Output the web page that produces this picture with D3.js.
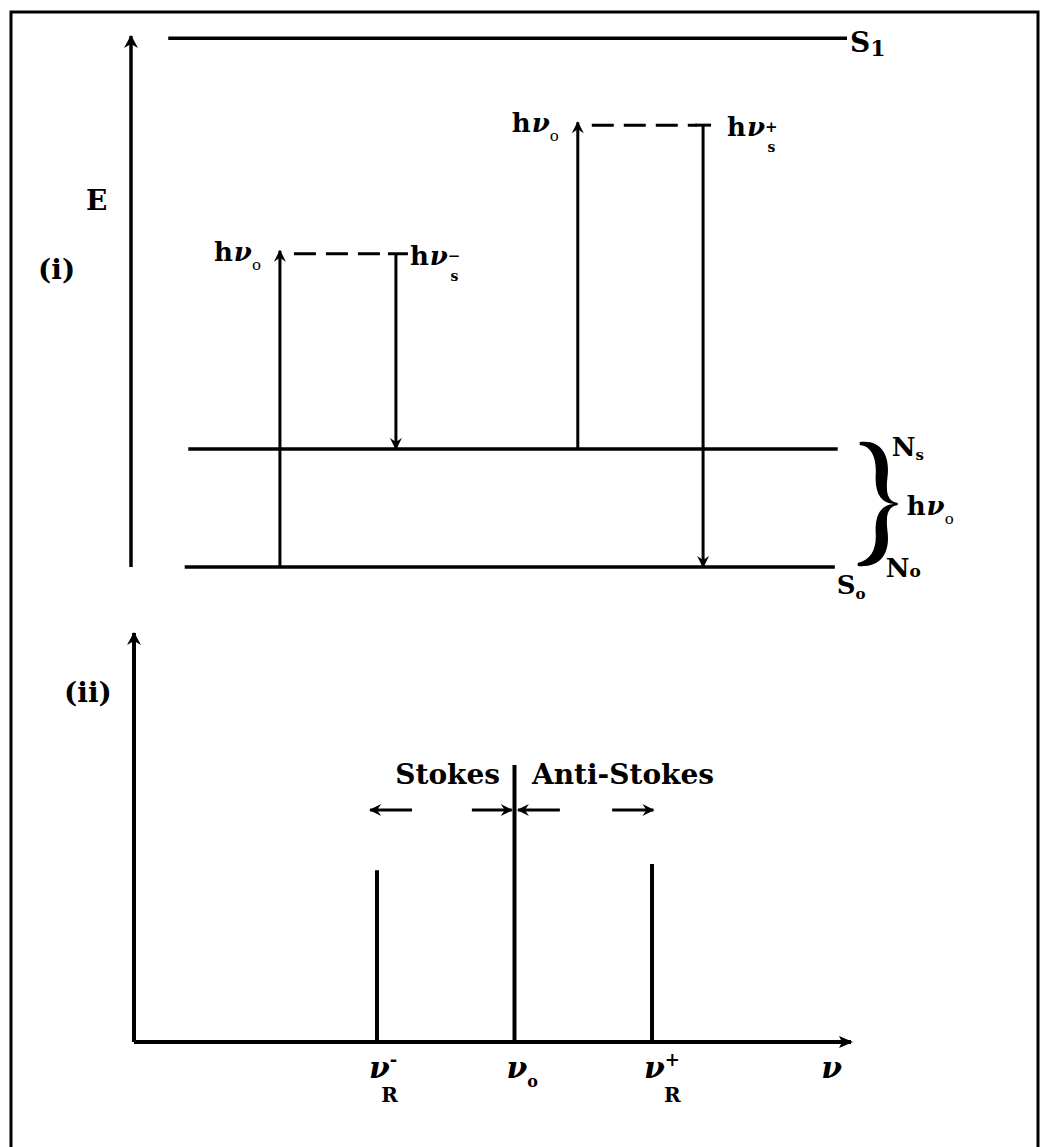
<!DOCTYPE html>
<html><head><meta charset="utf-8">
<script src="https://cdn.jsdelivr.net/npm/d3@7"></script>
<style>body{margin:0;background:#fff}svg{display:block}</style>
</head><body>
<script>
// ---------- Panel (i): energy-level data ----------
const levelNames = ["S0", "Ns", "S1"];
const levelEnergy = [0, 1, 4.48];
const levelStart = [7.5, 8.0, 5.2];     // horizontal extent (diagram units 0..100)
const levelEnd = [98.3, 98.7, 100];
const virtualEnergy = [2.68, 3.77];     // virtual states (Stokes, anti-Stokes)
const exciteX = [20.8, 62.4];           // upward excitation arrows
const emitX = [37.0, 79.9];             // downward emission arrows
const exciteFrom = [0, 1];              // starting level energy
const emitTo = [1, 0];                  // final level energy
const emitSup = ["\u2212", "+"];
// ---------- Panel (ii): spectrum data ----------
const peakLabels = ["R-", "0", "R+"];
const peakFreq = [-1, 0, 1];
const peakIntensity = [0.42, 0.677, 0.435];
const freqDomain = [-2.767, 2.447];
const bandArrows = [[-0.745, -1.05], [-0.31, -0.02], [0.33, 0.025], [0.71, 1.01]];
const bandArrowLevel = 0.567;

const W = 1047, H = 1147;
const svg = d3.select("body").append("svg").attr("width", W).attr("height", H);
svg.append("rect").attr("width", W).attr("height", H).attr("fill", "#fff");
const defs = svg.append("defs");
function marker(id, d) {
  defs.append("marker").attr("id", id).attr("viewBox", "-14 -8 16 16")
    .attr("refX", 0).attr("refY", 0).attr("markerWidth", 16).attr("markerHeight", 16)
    .attr("markerUnits", "userSpaceOnUse").attr("orient", "auto")
    .append("path").attr("d", d).attr("fill", "#000");
}
marker("ah", "M1,0 L-12,-7 L-8,0 L-12,7 Z");
marker("ahs", "M1,0 L-11,-6 L-7,0 L-11,6 Z");
marker("tri", "M2,0 L-12,-6 L-9,0 L-12,6 Z");

// frame
svg.append("path").attr("d", "M11,1147 L11,12 L1038,12 L1038,1147")
  .attr("fill", "none").attr("stroke", "#000").attr("stroke-width", 3);

const serif = "'DejaVu Serif', 'Liberation Serif', serif";

// ---------- Panel (i) ----------
const xI = d3.scaleLinear().domain([0, 100]).range([131, 847]);
const yE = d3.scaleLinear().domain([0, 4.5]).range([567, 36]);
const gI = svg.append("g");

gI.append("line").attr("x1", xI(0)).attr("x2", xI(0)).attr("y1", yE(0)).attr("y2", yE(4.5))
  .attr("stroke", "#000").attr("stroke-width", 3.5).attr("marker-end", "url(#ah)");

gI.selectAll("line.level").data(levelNames).join("line").attr("class", "level")
  .attr("x1", (d, i) => xI(levelStart[i])).attr("x2", (d, i) => xI(levelEnd[i]))
  .attr("y1", (d, i) => yE(levelEnergy[i])).attr("y2", (d, i) => yE(levelEnergy[i]))
  .attr("stroke", "#000").attr("stroke-width", 3.5);

gI.selectAll("line.exc").data(virtualEnergy).join("line").attr("class", "exc")
  .attr("x1", (d, i) => xI(exciteX[i])).attr("x2", (d, i) => xI(exciteX[i]))
  .attr("y1", (d, i) => yE(exciteFrom[i])).attr("y2", d => yE(d))
  .attr("stroke", "#000").attr("stroke-width", 3).attr("marker-end", "url(#ahs)");
gI.selectAll("line.virt").data(virtualEnergy).join("line").attr("class", "virt")
  .attr("x1", (d, i) => xI(exciteX[i]) + 14).attr("x2", (d, i) => xI(emitX[i]) - 6)
  .attr("y1", d => yE(d) + 3).attr("y2", d => yE(d) + 3)
  .attr("stroke", "#000").attr("stroke-width", 3).attr("stroke-dasharray", "22,10");
gI.selectAll("path.emi").data(virtualEnergy).join("path").attr("class", "emi")
  .attr("d", (d, i) => `M${xI(emitX[i]) - 8},${yE(d) + 3} L${xI(emitX[i]) + (i ? 8 : 12)},${yE(d) + 3}`)
  .attr("stroke", "#000").attr("stroke-width", 3).attr("fill", "none");
gI.selectAll("line.emi").data(virtualEnergy).join("line").attr("class", "emi")
  .attr("x1", (d, i) => xI(emitX[i])).attr("x2", (d, i) => xI(emitX[i]))
  .attr("y1", d => yE(d) + 3).attr("y2", (d, i) => yE(emitTo[i]))
  .attr("stroke", "#000").attr("stroke-width", 3).attr("marker-end", "url(#ahs)");

function hnu(g, x, y, opts) {
  const t = g.append("text").attr("x", x).attr("y", y)
    .attr("font-family", serif).attr("font-size", 26).attr("font-weight", "bold");
  t.append("tspan").text("h");
  t.append("tspan").attr("font-style", "italic").attr("dx", 1).text("\u03bd");
  if (opts.sub0) {
    t.append("tspan").attr("font-size", 15).attr("dx", 0).attr("dy", 9).attr("font-weight", "normal").text("o");
  }
  if (opts.sup) {
    t.append("tspan").attr("font-size", 15).attr("dx", 0).attr("dy", -4).text(opts.sup);
    t.append("tspan").attr("font-size", 14).attr("dx", -10).attr("dy", 20).text("s");
  }
  return t;
}
virtualEnergy.forEach((d, i) => {
  hnu(gI, xI(exciteX[i]) - 66, yE(d) + 10, { sub0: true });
  hnu(gI, xI(emitX[i]) + (i ? 24 : 14), yE(d) + 14, { sup: emitSup[i] });
});

gI.append("text").attr("x", 86).attr("y", 210).attr("font-family", serif)
  .attr("font-size", 28).attr("font-weight", "bold").text("E");
gI.append("text").attr("x", 38).attr("y", 279).attr("font-family", serif)
  .attr("font-size", 28).attr("font-weight", "bold").text("(i)");
const s1 = gI.append("text").attr("x", xI(levelEnd[2]) + 3).attr("y", yE(levelEnergy[2]) + 14)
  .attr("font-family", serif).attr("font-size", 28).attr("font-weight", "bold");
s1.append("tspan").text("S");
s1.append("tspan").attr("font-size", 22).attr("dy", 4).text("1");
const s0 = gI.append("text").attr("x", xI(levelEnd[0]) + 2).attr("y", yE(0) + 27)
  .attr("font-family", serif).attr("font-size", 26).attr("font-weight", "bold");
s0.append("tspan").text("S");
s0.append("tspan").attr("font-size", 15).attr("dy", 5).text("o");

// brace between S0 and Ns
const bT = yE(1) - 7, bB = yE(0) - 1, bM = (bT + bB) / 2, bx = xI(levelEnd[1]) + 22, bw = 38;
const braceD = [
  `M${bx},${bT}`,
  `C${bx + 22},${bT - 3} ${bx + 30},${bT + 14} ${bx + 28},${bT + 33}`,
  `C${bx + 26},${bM - 12} ${bx + 27},${bM - 3} ${bx + bw},${bM - 1}`,
  `L${bx + bw},${bM + 1}`,
  `C${bx + 27},${bM + 3} ${bx + 26},${bM + 12} ${bx + 28},${bB - 33}`,
  `C${bx + 30},${bB - 14} ${bx + 22},${bB + 2} ${bx - 2},${bB}`,
  `L${bx - 2},${bB - 3}`,
  `C${bx + 12},${bB - 6} ${bx + 17},${bB - 18} ${bx + 16},${bB - 33}`,
  `C${bx + 15},${bM + 10} ${bx + 22},${bM + 1} ${bx + bw - 4},${bM}`,
  `C${bx + 22},${bM - 1} ${bx + 15},${bM - 10} ${bx + 16},${bT + 33}`,
  `C${bx + 17},${bT + 16} ${bx + 12},${bT + 4} ${bx},${bT + 3} Z`
].join(" ");
gI.append("path").attr("d", braceD).attr("fill", "#000");
const ns = gI.append("text").attr("x", bx + 32).attr("y", yE(1) + 7)
  .attr("font-family", serif).attr("font-size", 26).attr("font-weight", "bold");
ns.append("tspan").text("N");
ns.append("tspan").attr("font-size", 15).attr("dy", 4).text("s");
hnu(gI, bx + 47, bM + 11, { sub0: true });
const n0 = gI.append("text").attr("x", bx + 26).attr("y", yE(0) + 10)
  .attr("font-family", serif).attr("font-size", 26).attr("font-weight", "bold");
n0.append("tspan").text("N");
n0.append("tspan").attr("font-size", 17).text("o");

// ---------- Panel (ii) ----------
const xF = d3.scaleLinear().domain(freqDomain).range([134, 851]);
const yI = d3.scaleLinear().domain([0, 1]).range([1042, 633]);
const gII = svg.append("g");
gII.append("line").attr("x1", xF(freqDomain[0])).attr("x2", xF(freqDomain[0]))
  .attr("y1", yI(0)).attr("y2", yI(1)).attr("stroke", "#000").attr("stroke-width", 4)
  .attr("marker-end", "url(#ah)");
gII.append("line").attr("x1", xF(freqDomain[0])).attr("x2", xF(freqDomain[1]))
  .attr("y1", yI(0)).attr("y2", yI(0)).attr("stroke", "#000").attr("stroke-width", 4)
  .attr("marker-end", "url(#tri)");
gII.selectAll("line.peak").data(peakFreq).join("line").attr("class", "peak")
  .attr("x1", d => xF(d)).attr("x2", d => xF(d))
  .attr("y1", yI(0)).attr("y2", (d, i) => yI(peakIntensity[i]))
  .attr("stroke", "#000").attr("stroke-width", 4);
gII.selectAll("line.band").data(bandArrows).join("line").attr("class", "band")
  .attr("x1", d => xF(d[0])).attr("x2", d => xF(d[1]))
  .attr("y1", yI(bandArrowLevel)).attr("y2", yI(bandArrowLevel))
  .attr("stroke", "#000").attr("stroke-width", 3).attr("marker-end", "url(#ahs)");
gII.append("text").attr("x", xF(-0.105)).attr("y", yI(0.631)).attr("text-anchor", "end")
  .attr("font-family", serif).attr("font-size", 28).attr("font-weight", "bold").text("Stokes");
gII.append("text").attr("x", xF(0.127)).attr("y", yI(0.631))
  .attr("font-family", serif).attr("font-size", 28).attr("font-weight", "bold").text("Anti-Stokes");
gII.append("text").attr("x", 64).attr("y", 702).attr("font-family", serif)
  .attr("font-size", 28).attr("font-weight", "bold").text("(ii)");

peakFreq.forEach((f, i) => {
  const t = gII.append("text").attr("x", xF(f) - 8).attr("y", yI(0) + 36)
    .attr("font-family", serif).attr("font-size", 30).attr("font-weight", "bold");
  t.append("tspan").attr("font-style", "italic").text("\u03bd");
  const lab = peakLabels[i];
  if (lab === "0") {
    t.append("tspan").attr("font-size", 16).attr("dx", 0).attr("dy", 9).text("o");
  } else {
    t.append("tspan").attr("font-size", 18).attr("dx", 0).attr("dy", -12).text(lab[1] === "+" ? "+" : "-");
    t.append("tspan").attr("font-size", 20).attr("dx", -16).attr("dy", 36).text("R");
  }
});
gII.append("text").attr("x", xF(2.23)).attr("y", yI(0) + 36).attr("font-family", serif)
  .attr("font-size", 30).attr("font-weight", "bold").attr("font-style", "italic").text("\u03bd");
</script>
</body></html>
